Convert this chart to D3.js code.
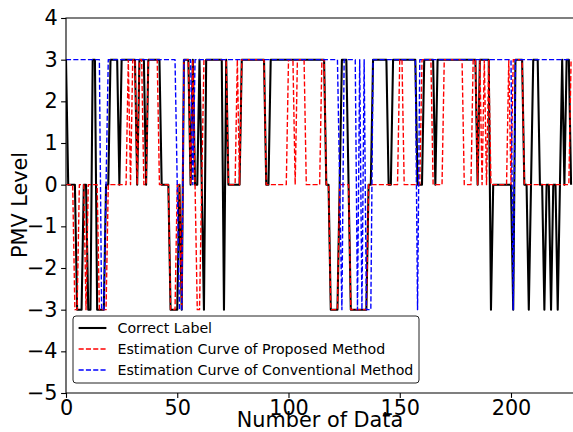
<!DOCTYPE html>
<head>
<meta charset="utf-8">
<script src="https://cdn.jsdelivr.net/npm/d3@7"></script>
<style>
    body { margin: 0; background: #fff; }
    text { font-family: "DejaVu Sans", sans-serif; fill: #000; }
    .tick line { stroke: #000; stroke-width: 1.1px; }
    .tick text { font-size: 20.8px; }
    .series { fill: none; stroke-linejoin: round; }
</style>
</head>
<body>
<svg width="573" height="432"></svg>
<script>
    // PMV level per data index (0..227)
    var correctLabel = [
        3,0,0,0,0,-3,-3,-3,0,0,-3,-3,3,3,-3,-3,-3,-3,0,0,
        3,3,3,3,0,3,3,3,3,3,3,3,0,3,3,3,0,3,3,3,
        3,3,3,0,0,0,0,-3,-3,-3,-3,0,-3,3,3,3,0,3,0,0,
        3,0,-3,3,3,3,3,3,3,3,3,-3,3,0,0,0,0,0,0,3,
        3,3,3,3,3,3,3,3,3,3,0,0,3,3,3,3,3,3,3,3,
        3,3,3,3,3,3,3,3,3,3,3,3,3,3,3,3,3,0,0,-3,
        -3,-3,-3,0,3,3,3,0,-3,-3,-3,-3,-3,-3,-3,-3,0,0,3,3,
        3,3,3,3,3,0,0,3,3,3,3,3,3,3,3,3,3,3,0,0,
        0,3,3,3,3,3,0,3,3,3,3,3,3,3,3,3,3,3,3,3,
        3,3,3,3,3,0,3,3,3,3,3,-3,0,0,0,0,0,0,0,0,
        0,-3,3,3,3,3,0,0,-3,0,3,3,3,0,0,-3,0,0,-3,0,
        0,-3,0,3,0,3,3,0
    ];
    var proposed = [
        0,0,0,0,-3,-3,0,0,0,-3,0,0,0,0,0,-3,-3,-3,-3,0,
        0,0,0,0,0,0,0,0,3,0,3,3,0,3,3,0,0,3,3,3,
        3,3,0,0,0,0,0,-3,-3,-3,0,0,-3,3,3,3,0,3,0,-3,
        -3,0,3,3,3,3,3,3,3,3,3,3,3,0,0,0,0,3,0,3,
        3,3,3,3,3,3,3,3,3,3,0,0,0,0,0,0,0,0,0,0,
        3,3,3,0,3,3,3,3,0,0,0,0,0,0,0,3,3,0,0,-3,
        -3,-3,-3,0,0,0,0,0,-3,-3,-3,-3,-3,-3,-3,-3,0,0,0,0,
        0,0,0,0,0,0,0,0,0,0,3,3,0,0,0,0,0,0,0,0,
        3,3,3,3,3,0,0,0,0,0,3,3,3,3,3,3,3,3,3,0,
        0,0,0,3,3,0,3,0,3,0,3,0,0,0,0,0,0,0,0,3,
        0,3,3,3,3,3,0,0,0,0,0,0,0,0,0,0,0,0,0,0,
        0,0,0,0,0,0,0,3
    ];
    var conventional = [
        3,3,3,3,3,3,3,3,3,3,3,3,3,3,3,3,-3,-3,0,3,
        3,3,3,3,3,3,3,3,3,3,3,3,3,3,3,3,3,3,3,3,
        3,3,3,3,3,3,3,3,3,3,0,-3,-3,3,3,3,3,0,3,3,
        3,3,3,3,3,3,3,3,3,3,3,3,3,3,3,3,3,3,3,3,
        3,3,3,3,3,3,3,3,3,3,3,3,3,3,3,3,3,3,3,3,
        3,3,3,3,3,3,3,3,3,3,3,3,3,3,3,3,3,3,3,3,
        3,3,3,0,-3,3,3,3,3,3,3,-3,3,-3,3,-3,-3,-3,3,3,
        3,3,3,3,3,3,3,3,3,3,3,3,3,3,3,3,3,3,-3,3,
        3,3,3,3,3,3,3,3,3,3,3,3,3,3,3,3,3,3,3,3,
        3,3,3,3,3,3,3,3,3,3,3,3,3,3,3,3,3,3,3,3,
        3,-3,3,3,3,3,3,3,3,3,3,3,3,3,3,3,3,3,3,3,
        3,3,3,3,3,3,3,3
    ];
    var xTicks = [0, 50, 100, 150, 200];
    var yTicks = [-5, -4, -3, -2, -1, 0, 1, 2, 3, 4];
    var legendLabels = ["Correct Label",
                        "Estimation Curve of Proposed Method",
                        "Estimation Curve of Conventional Method"];

    var svg = d3.select("svg"),
        plotLeft = 66, plotTop = 18, plotBottom = 393;

    var x = d3.scaleLinear().domain([0, 229]).range([plotLeft, plotLeft + 229 * 2.225]);
    var y = d3.scaleLinear().domain([-5, 4]).range([plotBottom, plotTop]);
    var plotRight = x.range()[1];

    svg.append("clipPath").attr("id", "plotClip")
      .append("rect")
        .attr("x", plotLeft).attr("y", plotTop - 2)
        .attr("width", plotRight - plotLeft).attr("height", plotBottom - plotTop + 4);

    var minus = function(d) { return (d < 0 ? "\u2212" : "") + Math.abs(d); };

    // axes
    svg.append("g")
        .attr("transform", "translate(0," + plotBottom + ")")
        .call(d3.axisBottom(x).tickValues(xTicks).tickSize(4.9).tickPadding(2.5).tickFormat(minus))
        .call(function(g) { g.select(".domain").remove(); });

    svg.append("g")
        .attr("transform", "translate(" + plotLeft + ",0)")
        .call(d3.axisLeft(y).tickValues(yTicks).tickSize(4.9).tickPadding(3.5).tickFormat(minus))
        .call(function(g) { g.select(".domain").remove(); });

    var line = d3.line()
        .x(function(d, i) { return x(i); })
        .y(function(d) { return y(d); });

    var plot = svg.append("g").attr("clip-path", "url(#plotClip)");

    var series = [
        {values: correctLabel, color: "#000000", width: 2.08, dash: null},
        {values: proposed, color: "#ff0000", width: 1.39, dash: "5.1,2.2"},
        {values: conventional, color: "#0000ff", width: 1.39, dash: "5.1,2.2"}
    ];

    plot.selectAll(".series")
        .data(series)
        .enter().append("path")
        .attr("class", "series")
        .attr("d", function(d) { return line(d.values); })
        .attr("stroke", function(d) { return d.color; })
        .attr("stroke-width", function(d) { return d.width; })
        .attr("stroke-dasharray", function(d) { return d.dash; });

    // spines (right one falls outside the picture)
    svg.append("path")
        .attr("d", "M" + plotRight + "," + plotTop + "H" + plotLeft + "V" + plotBottom + "H" + plotRight)
        .attr("fill", "none")
        .attr("stroke", "#000")
        .attr("stroke-width", 1.1);

    // axis labels
    svg.append("text")
        .attr("x", 320).attr("y", 427)
        .attr("text-anchor", "middle")
        .style("font-size", "20.8px")
        .text("Number of Data");

    svg.append("text")
        .attr("transform", "translate(27,205) rotate(-90)")
        .attr("text-anchor", "middle")
        .style("font-size", "20.8px")
        .text("PMV Level");

    // legend
    var legend = svg.append("g").attr("transform", "translate(73,316)");
    legend.append("rect")
        .attr("width", 346).attr("height", 67)
        .attr("rx", 3)
        .attr("fill", "#fff")
        .attr("stroke", "#222")
        .attr("stroke-width", 1);

    var entry = legend.selectAll(".entry")
        .data(series)
        .enter().append("g")
        .attr("class", "entry")
        .attr("transform", function(d, i) { return "translate(0," + (12 + i * 21) + ")"; });

    entry.append("line")
        .attr("x1", 5.6).attr("x2", 33.4)
        .attr("stroke", function(d) { return d.color; })
        .attr("stroke-width", function(d) { return d.width; })
        .attr("stroke-dasharray", function(d) { return d.dash; });

    entry.append("text")
        .attr("x", 44.5)
        .attr("dy", "0.36em")
        .style("font-size", "14.2px")
        .text(function(d, i) { return legendLabels[i]; });
</script>
</body>
